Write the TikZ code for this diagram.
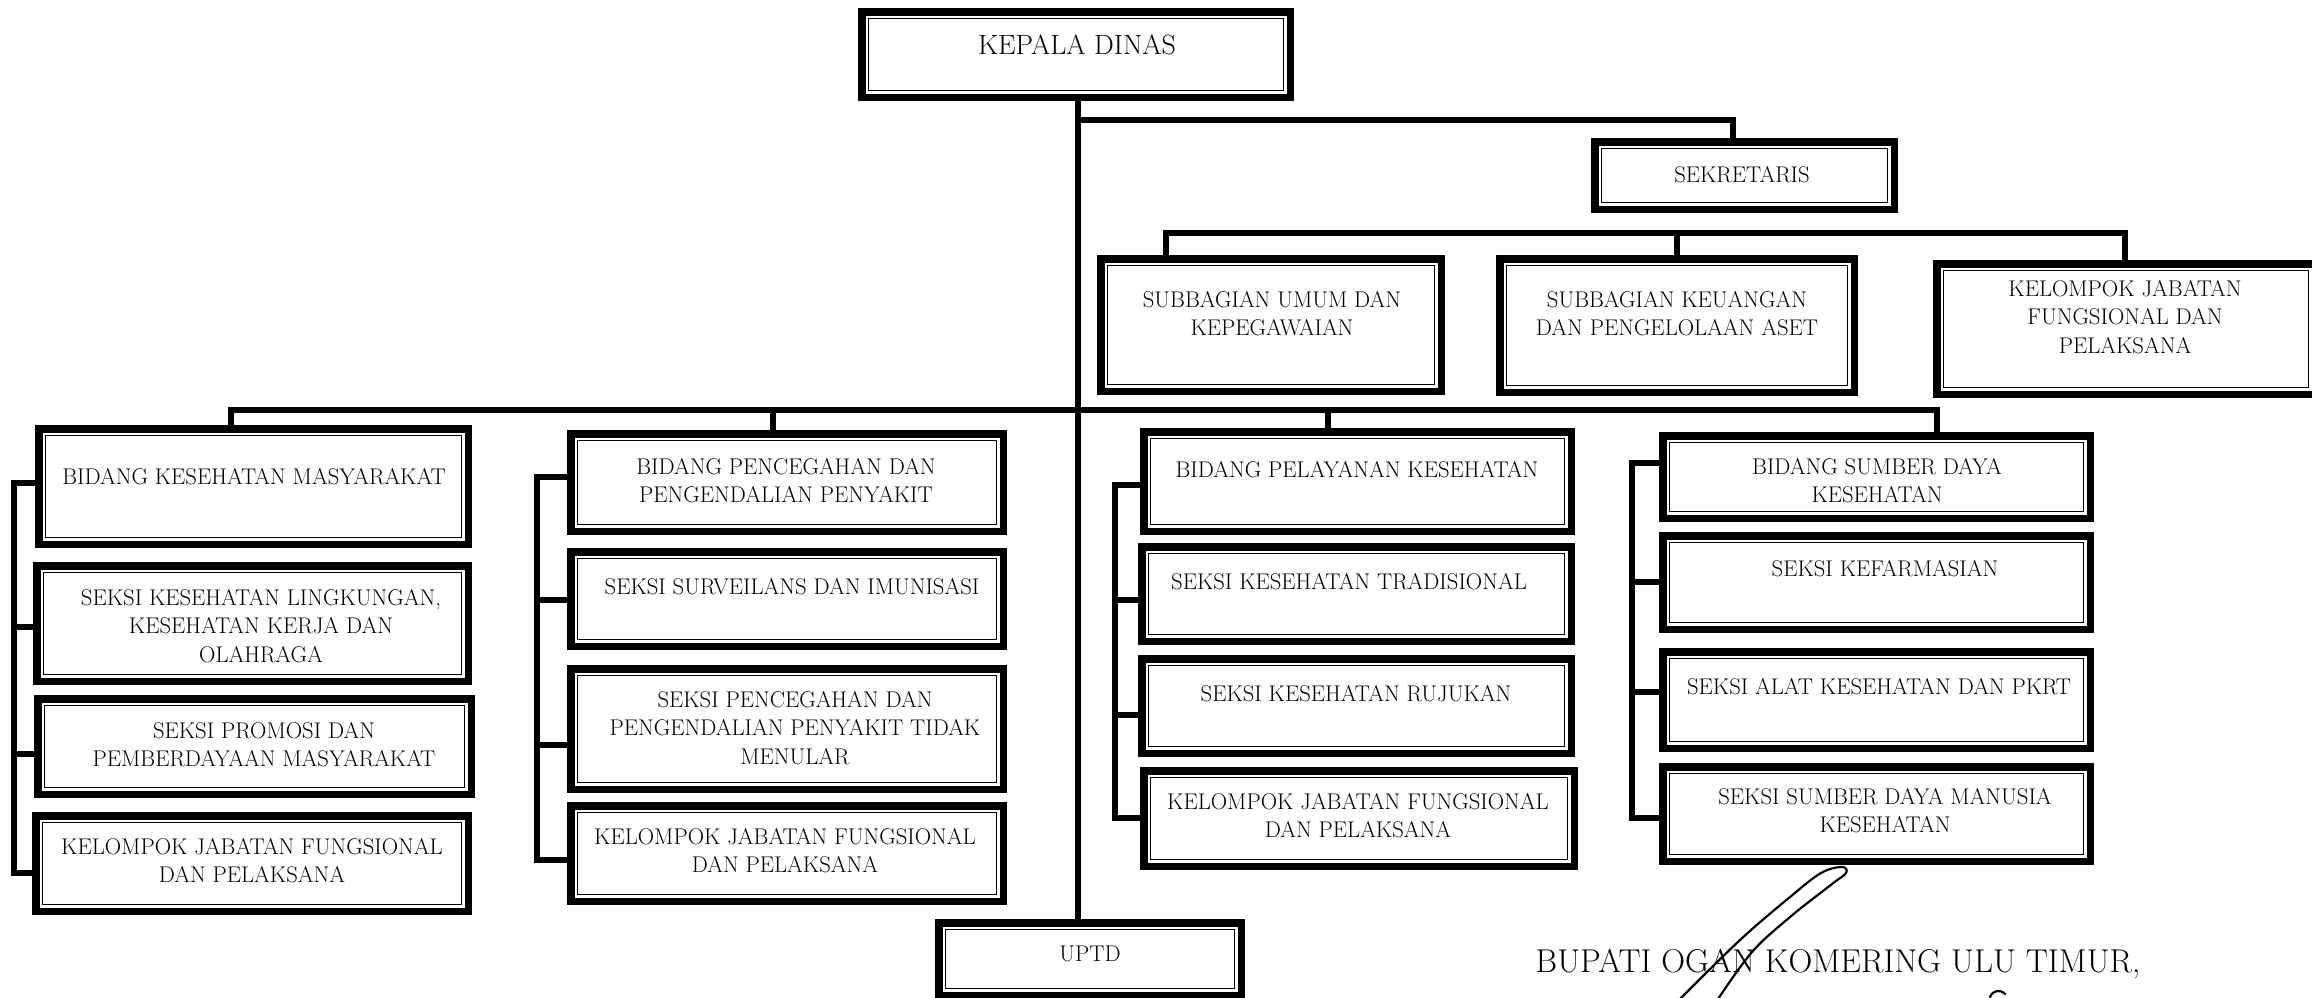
\documentclass[tikz,border=0pt]{standalone}
\usetikzlibrary{calc}
\begin{document}
\begin{tikzpicture}[x=1pt,y=-1pt,
  box/.style={draw=black, line width=7.5pt, fill=white, inner sep=0pt, rectangle},
  conn/.style={draw=black, line width=5.5pt},
  innerline/.style={draw=black, line width=1.8pt},
  lbl/.style={inner sep=0pt, anchor=north, align=center, font=\fontsize{22.7}{28.5}\selectfont},
  sig/.style={draw=black, line width=2.2pt, line cap=round, line join=round}]
\useasboundingbox (0,0) rectangle (2312,997);
\fill[white] (0,0) rectangle (2312,997);

% ---- boxes ----
\node[box, minimum width=428.5pt, minimum height=85.5pt]  (kd)   at (1076,54.5) {};
\node[box, minimum width=299.5pt, minimum height=67.5pt]  (sek)  at (1744.5,175.5) {};
\node[box, minimum width=340.5pt, minimum height=132.5pt] (sub1) at (1271,325) {};
\node[box, minimum width=354.5pt, minimum height=133.5pt] (sub2) at (1677,325.5) {};
\node[box, minimum width=378.5pt, minimum height=130.5pt] (kel0) at (2126,329) {};
\node[box, minimum width=429.5pt, minimum height=115.5pt] (b1)   at (253.5,486.5) {};
\node[box, minimum width=431.5pt, minimum height=115.5pt] (s11)  at (252.5,623.5) {};
\node[box, minimum width=433.5pt, minimum height=95.5pt]  (s12)  at (254.5,746.5) {};
\node[box, minimum width=432.5pt, minimum height=95.5pt]  (s13)  at (252,863.5) {};
\node[box, minimum width=432.5pt, minimum height=97.5pt]  (b2)   at (787,482.5) {};
\node[box, minimum width=432.5pt, minimum height=94.5pt]  (s21)  at (787,599) {};
\node[box, minimum width=432.5pt, minimum height=120.5pt] (s22)  at (787,729) {};
\node[box, minimum width=432.5pt, minimum height=95.5pt]  (s23)  at (787,853.5) {};
\node[box, minimum width=427.5pt, minimum height=99.5pt]  (b3)   at (1357.5,481.5) {};
\node[box, minimum width=429.5pt, minimum height=94.5pt]  (s31)  at (1356.5,594) {};
\node[box, minimum width=429.5pt, minimum height=94.5pt]  (s32)  at (1356.5,706) {};
\node[box, minimum width=430.5pt, minimum height=95.5pt]  (s33)  at (1359,818.5) {};
\node[box, minimum width=427.5pt, minimum height=82.5pt]  (b4)   at (1876.5,477) {};
\node[box, minimum width=427.5pt, minimum height=93.5pt]  (s41)  at (1876.5,582.5) {};
\node[box, minimum width=427.5pt, minimum height=96.5pt]  (s42)  at (1876.5,700) {};
\node[box, minimum width=427.5pt, minimum height=94.5pt]  (s43)  at (1876.5,814) {};
\node[box, minimum width=302.5pt, minimum height=72.5pt]  (uptd) at (1090,959) {};

\foreach \n in {kd,sek,sub1,sub2,kel0,b1,s11,s12,s13,b2,s21,s22,s23,b3,s31,s32,s33,b4,s41,s42,s43,uptd}
  \draw[innerline] ([shift={(10.5pt,-10.5pt)}]\n.north west) rectangle ([shift={(-10.5pt,10.5pt)}]\n.south east);

% ---- labels ----
\node[lbl, font=\fontsize{27.9}{32}\selectfont] (kdT) at (1077,35) {KEPALA DINAS};
\node[lbl] (sekT)  at (1742,166) {SEKRETARIS};
\node[lbl] (sub1T) at (1272,291) {SUBBAGIAN UMUM DAN\\KEPEGAWAIAN};
\node[lbl] (sub2T) at (1677,291) {SUBBAGIAN KEUANGAN\\DAN PENGELOLAAN ASET};
\node[lbl] (kel0T) at (2125,280) {KELOMPOK JABATAN\\FUNGSIONAL DAN\\PELAKSANA};
\node[lbl] (b1T)   at (254,468)  {BIDANG KESEHATAN MASYARAKAT};
\node[lbl] (s11T)  at (261,589)  {SEKSI KESEHATAN LINGKUNGAN,\\KESEHATAN KERJA DAN\\OLAHRAGA};
\node[lbl] (s12T)  at (264,722)  {SEKSI PROMOSI DAN\\PEMBERDAYAAN MASYARAKAT};
\node[lbl] (s13T)  at (252,838)  {KELOMPOK JABATAN FUNGSIONAL\\DAN PELAKSANA};
\node[lbl] (b2T)   at (786,458)  {BIDANG PENCEGAHAN DAN\\PENGENDALIAN PENYAKIT};
\node[lbl] (s21T)  at (792,578)  {SEKSI SURVEILANS DAN IMUNISASI};
\node[lbl] (s22T)  at (795,691)  {SEKSI PENCEGAHAN DAN\\PENGENDALIAN PENYAKIT TIDAK\\MENULAR};
\node[lbl] (s23T)  at (785,828)  {KELOMPOK JABATAN FUNGSIONAL\\DAN PELAKSANA};
\node[lbl] (b3T)   at (1357,461) {BIDANG PELAYANAN KESEHATAN};
\node[lbl] (s31T)  at (1349,573) {SEKSI KESEHATAN TRADISIONAL};
\node[lbl] (s32T)  at (1356,685) {SEKSI KESEHATAN RUJUKAN};
\node[lbl] (s33T)  at (1358,793) {KELOMPOK JABATAN FUNGSIONAL\\DAN PELAKSANA};
\node[lbl] (b4T)   at (1877,458) {BIDANG SUMBER DAYA\\KESEHATAN};
\node[lbl] (s41T)  at (1885,560) {SEKSI KEFARMASIAN};
\node[lbl] (s42T)  at (1879,678) {SEKSI ALAT KESEHATAN DAN PKRT};
\node[lbl] (s43T)  at (1885,788) {SEKSI SUMBER DAYA MANUSIA\\KESEHATAN};
\node[lbl] (uptdT) at (1090,946) {UPTD};
\node[inner sep=0pt, anchor=base, font=\fontsize{33}{38}\selectfont] (bup) at (1838,972) {BUPATI OGAN KOMERING ULU TIMUR,};

% ---- connectors ----
\coordinate (tr) at (1078,0);
\draw[conn] (kd.south -| tr) -- (uptd.north -| tr);
\coordinate (j1) at (1078,120);
\coordinate (j2) at (1733,120);
\draw[conn] (j1) -- (j2) -- (sek.north -| j2);

\coordinate (d1) at (1166,233);
\coordinate (d2) at (1677,233);
\coordinate (d3) at (2125,233);
\draw[conn] (sub1.north -| d1) -- (d1) -- (d3) -- (kel0.north -| d3);
\draw[conn] (d2) -- (sub2.north -| d2);

\coordinate (e1) at (231,410);
\coordinate (e2) at (773,410);
\coordinate (e3) at (1328,410);
\coordinate (e4) at (1937,410);
\draw[conn] (b1.north -| e1) -- (e1) -- (e4) -- (b4.north -| e4);
\draw[conn] (e2) -- (b2.north -| e2);
\draw[conn] (e3) -- (b3.north -| e3);

% brackets
\coordinate (k1a) at (14,483);  \coordinate (k1b) at (14,627);
\coordinate (k1c) at (14,754);  \coordinate (k1d) at (14,873);
\draw[conn] (b1.west |- k1a) -- (k1a) -- (k1d) -- (s13.west |- k1d);
\draw[conn] (k1b) -- (s11.west |- k1b);
\draw[conn] (k1c) -- (s12.west |- k1c);

\coordinate (k2a) at (537,477);  \coordinate (k2b) at (537,600);
\coordinate (k2c) at (537,745);  \coordinate (k2d) at (537,860);
\draw[conn] (b2.west |- k2a) -- (k2a) -- (k2d) -- (s23.west |- k2d);
\draw[conn] (k2b) -- (s21.west |- k2b);
\draw[conn] (k2c) -- (s22.west |- k2c);

\coordinate (k3a) at (1115,485);  \coordinate (k3b) at (1115,600);
\coordinate (k3c) at (1115,715);  \coordinate (k3d) at (1115,818);
\draw[conn] (b3.west |- k3a) -- (k3a) -- (k3d) -- (s33.west |- k3d);
\draw[conn] (k3b) -- (s31.west |- k3b);
\draw[conn] (k3c) -- (s32.west |- k3c);

\coordinate (k4a) at (1632,463);  \coordinate (k4b) at (1632,582);
\coordinate (k4c) at (1632,692);  \coordinate (k4d) at (1632,818);
\draw[conn] (b4.west |- k4a) -- (k4a) -- (k4d) -- (s43.west |- k4d);
\draw[conn] (k4b) -- (s41.west |- k4b);
\draw[conn] (k4c) -- (s42.west |- k4c);

% ---- signature stroke ----
\draw[sig] plot[smooth, tension=0.6] coordinates {(1680,999) (1740,940) (1790,897) (1821,873) (1842,867) (1846,873) (1832,884) (1790,917) (1752,952) (1718,999)};
\draw[sig] (1990,997) .. controls (1993,990) and (2000,989) .. (2005,994);
\end{tikzpicture}
\end{document}
